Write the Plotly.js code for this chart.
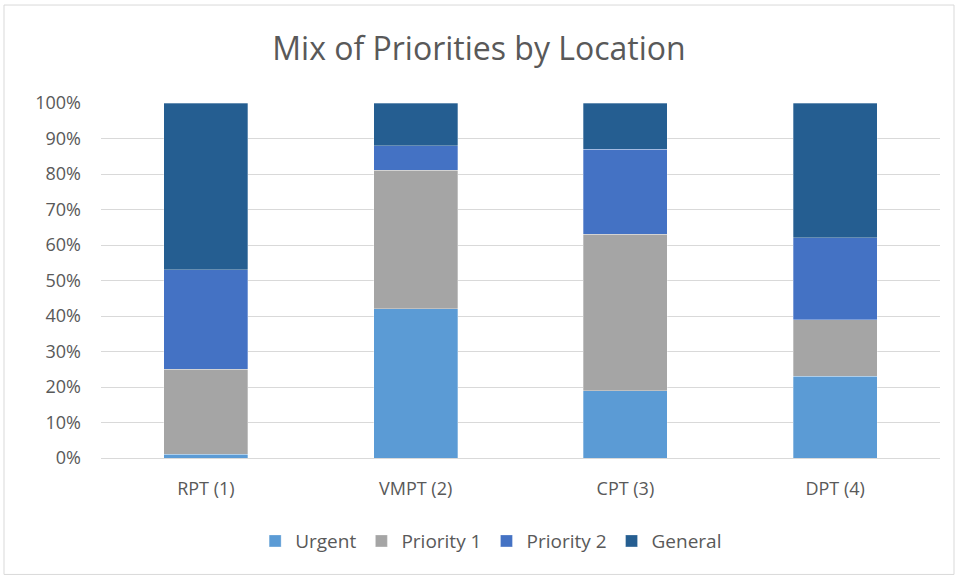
<!DOCTYPE html>
<html>
<head>
<meta charset="utf-8">
<script src="https://cdn.plot.ly/plotly-3.0.1.min.js"></script>
<style>html,body{margin:0;padding:0;background:#fff;}#chart{width:958px;height:578px;}</style>
</head>
<body>
<div id="chart"></div>
<script>
const locations = ["RPT (1)", "VMPT (2)", "CPT (3)", "DPT (4)"];
const urgent = [1, 42, 19, 23];
const priority1 = [24, 39, 44, 16];
const priority2 = [28, 7, 24, 23];
const general = [47, 12, 13, 38];
const yTickVals = [0, 10, 20, 30, 40, 50, 60, 70, 80, 90, 100];
const yTickText = ["0%", "10%", "20%", "30%", "40%", "50%", "60%", "70%", "80%", "90%", "100%"];

const font = "Open Sans, Liberation Sans, sans-serif";
const mk = (name, y, color) => ({
  type: "bar", name: name, x: locations, y: y,
  marker: {color: color, line: {color: "rgba(255,255,255,0.5)", width: 0.6}},
  hoverinfo: "x+y+name"
});
const data = [
  mk("Urgent", urgent, "#5B9BD5"),
  mk("Priority 1", priority1, "#A5A5A5"),
  mk("Priority 2", priority2, "#4472C4"),
  mk("General", general, "#255E91")
];
const layout = {
  width: 958, height: 578,
  margin: {l: 101, r: 18, t: 103, b: 120},
  barmode: "stack", bargap: 0.6,
  paper_bgcolor: "#fff", plot_bgcolor: "#fff",
  font: {family: font, color: "#595959", size: 18},
  title: {text: "Mix of Priorities by Location", font: {family: font, size: 32, color: "#595959"}, x: 0.5, xanchor: "center", y: 0.915, yanchor: "middle"},
  xaxis: {showgrid: false, showline: true, linecolor: "#d9d9d9", linewidth: 1, ticks: "", ticklabelstandoff: 14, tickfont: {size: 18, color: "#595959"}},
  yaxis: {range: [0, 100], tickvals: yTickVals, ticktext: yTickText, showgrid: true, gridcolor: "#d9d9d9", gridwidth: 1, zeroline: false, showline: false, ticks: "", ticklabelstandoff: 19, tickfont: {size: 18, color: "#595959"}},
  legend: {orientation: "h", x: 0.465, xanchor: "center", y: -0.234, yanchor: "middle", font: {size: 19, color: "#595959"}, traceorder: "normal", itemwidth: 30},
  shapes: [{type: "rect", xref: "paper", yref: "paper", x0: -0.1156, x1: 1.0167, y0: -0.328, y1: 1.276, line: {color: "#d9d9d9", width: 1}, fillcolor: "rgba(0,0,0,0)"}]
};
Plotly.newPlot("chart", data, layout, {displayModeBar: false, staticPlot: true});
</script>
</body>
</html>
